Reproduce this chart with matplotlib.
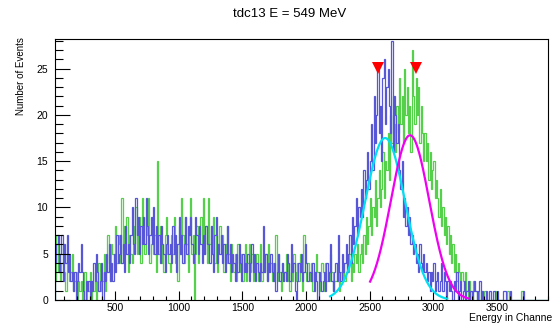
import numpy as np
import matplotlib
matplotlib.use("Agg")
import matplotlib.pyplot as plt
from matplotlib.ticker import MultipleLocator

plt.rcParams['font.family'] = ['Liberation Sans', 'DejaVu Sans']

# Histogram binning (channels)
bin_start = 30
bin_width = 10

# Counts per 10-channel bin, one row = 100 channels
counts_blue = [
    4, 6, 7, 3, 5, 7, 2, 6, 4, 7,
    3, 5, 2, 3, 1, 3, 0, 2, 4, 3,
    6, 3, 1, 0, 2, 1, 2, 0, 2, 1,
    4, 2, 5, 3, 1, 2, 4, 0, 3, 2,
    5, 3, 6, 2, 4, 2, 5, 3, 7, 4,
    5, 7, 4, 6, 3, 8, 5, 6, 4, 7,
    10, 6, 5, 11, 7, 9, 5, 8, 6, 9,
    6, 11, 8, 5, 7, 9, 6, 10, 5, 8,
    5, 7, 4, 8, 6, 5, 3, 6, 7, 5,
    6, 4, 8, 5, 7, 3, 6, 9, 5, 7,
    4, 6, 9, 5, 8, 7, 9, 6, 4, 5,
    9, 7, 5, 8, 6, 4, 7, 5, 8, 6,
    6, 4, 8, 5, 3, 7, 9, 4, 6, 5,
    7, 4, 6, 3, 5, 8, 4, 6, 3, 5,
    4, 2, 5, 3, 6, 4, 2, 5, 3, 4,
    3, 5, 2, 4, 6, 3, 5, 2, 4, 3,
    2, 4, 3, 8, 3, 5, 2, 4, 3, 5,
    3, 2, 4, 1, 3, 5, 2, 3, 4, 2,
    3, 2, 5, 4, 2, 6, 3, 4, 1, 0,
    2, 4, 3, 5, 2, 3, 6, 4, 2, 3,
    3, 2, 4, 1, 3, 2, 0, 3, 2, 1,
    2, 3, 1, 4, 2, 3, 6, 2, 1, 3,
    4, 2, 7, 3, 2, 5, 3, 4, 6, 3,
    5, 7, 4, 9, 6, 8, 11, 7, 10, 9,
    12, 9, 14, 11, 13, 16, 12, 15, 19, 14,
    22, 17, 20, 25, 18, 21, 15, 24, 26, 19,
    23, 25, 21, 18, 28, 16, 22, 20, 17, 19,
    14, 12, 15, 9, 11, 8, 10, 7, 9, 6,
    7, 5, 6, 4, 5, 3, 6, 4, 3, 5,
    3, 4, 2, 3, 1, 3, 2, 4, 1, 2,
    3, 1, 2, 4, 1, 3, 2, 0, 2, 1,
    2, 1, 0, 2, 1, 3, 0, 1, 2, 0,
    1, 2, 0, 1, 2, 0, 1, 0, 1, 2,
    1, 0, 1, 2, 0, 1, 0, 0, 1, 0,
    0, 1, 0, 0, 1, 0, 0, 1, 0, 0,
    0, 0, 1, 1, 0, 0, 0, 1, 0, 0,
    0, 0, 0, 0, 0, 0, 0, 1, 0, 0,
    0, 0, 0, 0, 0, 0, 0, 0, 0, 0,
    0, 0, 0, 0, 0, 0, 0,
]

counts_green = [
    2, 7, 3, 5, 2, 4, 6, 3, 1, 5,
    4, 2, 3, 5, 1, 2, 3, 0, 2, 1,
    2, 0, 1, 3, 0, 2, 1, 3, 0, 2,
    1, 3, 0, 2, 4, 1, 3, 2, 5, 1,
    3, 7, 4, 2, 6, 5, 3, 8, 4, 6,
    7, 4, 11, 5, 8, 6, 9, 3, 7, 5,
    4, 8, 6, 10, 5, 7, 9, 4, 11, 6,
    5, 9, 7, 11, 4, 6, 8, 5, 7, 3,
    15, 5, 8, 4, 6, 3, 7, 9, 5, 4,
    3, 7, 5, 9, 4, 6, 2, 8, 5, 11,
    7, 4, 9, 6, 3, 8, 11, 5, 7, 0,
    5, 8, 4, 7, 9, 6, 11, 5, 8, 4,
    11, 6, 8, 5, 9, 4, 7, 3, 6, 8,
    5, 7, 3, 6, 4, 8, 5, 2, 6, 4,
    3, 5, 2, 6, 4, 3, 5, 2, 4, 6,
    2, 4, 6, 3, 5, 2, 4, 3, 5, 2,
    3, 6, 2, 4, 3, 5, 2, 6, 3, 4,
    2, 4, 3, 7, 2, 5, 3, 1, 4, 2,
    3, 5, 2, 4, 1, 3, 2, 5, 3, 2,
    4, 2, 5, 3, 1, 7, 3, 2, 4, 3,
    2, 4, 1, 3, 2, 5, 3, 1, 2, 4,
    3, 1, 4, 2, 3, 2, 5, 3, 1, 2,
    2, 4, 3, 1, 3, 2, 4, 2, 3, 4,
    3, 5, 2, 4, 3, 5, 4, 6, 3, 5,
    6, 4, 7, 5, 9, 6, 8, 11, 7, 10,
    9, 13, 8, 11, 14, 10, 12, 16, 11, 15,
    14, 18, 13, 20, 17, 22, 19, 16, 21, 18,
    24, 19, 22, 17, 25, 20, 23, 18, 21, 16,
    27, 22, 19, 24, 20, 23, 17, 21, 18, 15,
    18, 15, 17, 13, 16, 12, 14, 15, 11, 13,
    11, 9, 12, 8, 10, 7, 9, 6, 8, 5,
    7, 4, 6, 3, 5, 2, 4, 3, 2, 3,
    2, 1, 3, 1, 0, 2, 1, 0, 2, 1,
    1, 0, 1, 0, 1, 0, 0, 1, 0, 0,
    0, 0, 0, 0, 0, 1, 0, 0, 0, 0,
    0, 0, 0, 0, 0, 1, 0, 0, 0, 0,
    0, 0, 0, 0, 0, 0, 1, 0, 0, 0,
    0, 0, 0, 0, 0, 0, 0, 0, 0, 0,
    0, 0, 0, 0, 0, 0, 0,
]

# Gaussian fit results: (amplitude, mean, sigma, fit range low, fit range high)
fit_blue = (17.5, 2621.0, 157.0, 2189.0, 3108.0)
fit_green = (17.8, 2817.0, 150.0, 2503.0, 3273.0)

# Peak markers (channel, height)
peak_x = [2566, 2864]
peak_y = [25.1, 25.1]

x_min, x_max = 29, 3900
y_min, y_max = 0, 28.2

fig = plt.figure(figsize=(5.52, 3.26), dpi=100)
ax = fig.add_axes([55 / 552, 1 - 300 / 326, 493 / 552, 261 / 326])


def edges_for(values):
    return bin_start + bin_width * np.arange(len(values) + 1)


def gauss_curve(params):
    amp, mu, sig, lo, hi = params
    xs = np.linspace(lo, hi, 300)
    return xs, amp * np.exp(-0.5 * ((xs - mu) / sig) ** 2)


ax.stairs(counts_green, edges_for(counts_green), color='#55d04a', lw=0.9)
ax.stairs(counts_blue, edges_for(counts_blue), color='#5656d6', lw=0.9)

xb, yb = gauss_curve(fit_blue)
ax.plot(xb, yb, color='#00e0f0', lw=1.6)
xg, yg = gauss_curve(fit_green)
ax.plot(xg, yg, color='#f000f0', lw=1.6)

ax.plot(peak_x, peak_y, linestyle='none', marker='v', color='#ff0000',
        markersize=8, markeredgewidth=0)

ax.set_xlim(x_min, x_max)
ax.set_ylim(y_min, y_max)

ax.xaxis.set_major_locator(MultipleLocator(500))
ax.xaxis.set_minor_locator(MultipleLocator(100))
ax.yaxis.set_major_locator(MultipleLocator(5))
ax.yaxis.set_minor_locator(MultipleLocator(1))

ax.tick_params(axis='both', which='both', direction='in', top=False, right=False,
               labelsize=7.5, colors='black', width=0.8)
ax.tick_params(axis='y', which='major', length=10.8, pad=5)
ax.tick_params(axis='y', which='minor', length=5.5)
ax.tick_params(axis='x', which='major', length=6.5, pad=2.5)
ax.tick_params(axis='x', which='minor', length=3.2)

for s in ax.spines.values():
    s.set_linewidth(0.8)
    s.set_color('black')

fig.text(290 / 552, 1 - 14 / 326, 'tdc13 E = 549 MeV', ha='center', va='center',
         fontsize=9.5)
fig.text(21 / 552, 1 - 37 / 326, 'Number of Events', rotation=90, ha='center',
         va='top', fontsize=7)
fig.text(469 / 552, 1 - 313 / 326, 'Energy in Channels', ha='left', va='top',
         fontsize=7.5)

fig.savefig('out.png', dpi=100, facecolor='white')
